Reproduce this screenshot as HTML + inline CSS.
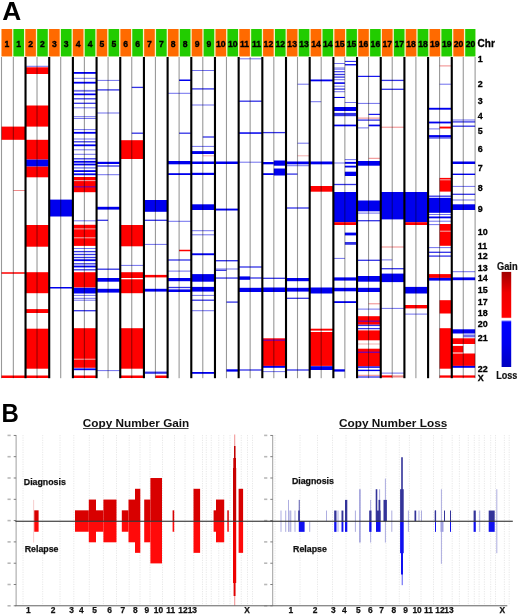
<!DOCTYPE html>
<html><head><meta charset="utf-8"><style>
html,body{margin:0;padding:0;background:#fff;}
body{width:520px;height:615px;overflow:hidden;}
svg{display:block;font-family:"Liberation Sans",sans-serif;}
.hn{font-size:9.8px;font-weight:bold;fill:#000;stroke:#000;stroke-width:0.35px;}
.cl{font-size:9.4px;font-weight:bold;fill:#000;stroke:#000;stroke-width:0.3px;}
.pl{font-size:25px;font-weight:bold;fill:#000;}
.tt{font-size:10.8px;font-weight:bold;fill:#111;}
.dg{font-size:8.8px;font-weight:bold;fill:#111;stroke:#111;stroke-width:0.25px;}
.xl{font-size:8.4px;font-weight:bold;fill:#111;stroke:#111;stroke-width:0.25px;}
.lg{font-size:10.1px;font-weight:bold;fill:#111;stroke:#111;stroke-width:0.2px;}
</style></head><body>
<svg width="520" height="615" viewBox="0 0 520 615">
<rect width="520" height="615" fill="#fff"/>
<text transform="translate(2.2,19.6) scale(1.05,1)" class="pl">A</text>
<text x="477.6" y="46.8" class="cl" style="font-size:10px">Chr</text>
<rect x="1.50" y="57.0" width="473.60" height="321.2" fill="#fff"/>
<rect x="1.50" y="126.60" width="23.68" height="13.20" fill="#ff0000"/>
<rect x="13.34" y="190.00" width="11.84" height="1.00" fill="#f08888"/>
<rect x="1.50" y="272.25" width="23.68" height="1.50" fill="#ff0000"/>
<rect x="1.50" y="375.50" width="23.68" height="2.50" fill="#ff0000"/>
<rect x="25.18" y="65.80" width="23.68" height="1.00" fill="#7070ee"/>
<rect x="25.18" y="67.30" width="23.68" height="6.70" fill="#ff0000"/>
<rect x="25.18" y="105.50" width="23.68" height="21.10" fill="#ff0000"/>
<rect x="25.18" y="139.80" width="23.68" height="19.80" fill="#ff0000"/>
<rect x="25.18" y="159.60" width="23.68" height="7.00" fill="#0000ee"/>
<rect x="25.18" y="166.60" width="23.68" height="10.70" fill="#ff0000"/>
<rect x="25.18" y="225.00" width="23.68" height="21.70" fill="#ff0000"/>
<rect x="25.18" y="272.20" width="23.68" height="21.00" fill="#ff0000"/>
<rect x="25.18" y="309.10" width="23.68" height="3.90" fill="#ff0000"/>
<rect x="25.18" y="328.70" width="23.68" height="40.00" fill="#ff0000"/>
<rect x="25.18" y="375.50" width="23.68" height="2.50" fill="#ff0000"/>
<rect x="48.86" y="199.60" width="23.68" height="16.90" fill="#0000ee"/>
<rect x="48.86" y="287.00" width="23.68" height="1.50" fill="#0000ee"/>
<rect x="72.54" y="72.00" width="23.68" height="1.80" fill="#0000ee"/>
<rect x="72.54" y="77.80" width="23.68" height="1.00" fill="#7070ee"/>
<rect x="72.54" y="81.80" width="23.68" height="1.80" fill="#0000ee"/>
<rect x="72.54" y="89.90" width="23.68" height="1.80" fill="#7070ee"/>
<rect x="72.54" y="93.50" width="23.68" height="1.70" fill="#0000ee"/>
<rect x="72.54" y="98.15" width="23.68" height="1.30" fill="#3333e6"/>
<rect x="72.54" y="102.65" width="23.68" height="1.30" fill="#3333e6"/>
<rect x="72.54" y="107.30" width="23.68" height="1.00" fill="#7070ee"/>
<rect x="72.54" y="116.20" width="23.68" height="1.00" fill="#7070ee"/>
<rect x="72.54" y="118.00" width="23.68" height="1.00" fill="#7070ee"/>
<rect x="72.54" y="129.10" width="23.68" height="1.00" fill="#7070ee"/>
<rect x="72.54" y="131.90" width="23.68" height="1.80" fill="#0000ee"/>
<rect x="72.54" y="138.50" width="23.68" height="1.00" fill="#7070ee"/>
<rect x="72.54" y="141.15" width="23.68" height="1.30" fill="#3333e6"/>
<rect x="72.54" y="144.40" width="23.68" height="1.80" fill="#0000ee"/>
<rect x="72.54" y="149.30" width="23.68" height="1.00" fill="#7070ee"/>
<rect x="72.54" y="153.80" width="23.68" height="1.00" fill="#7070ee"/>
<rect x="72.54" y="158.15" width="23.68" height="1.30" fill="#3333e6"/>
<rect x="72.54" y="160.90" width="23.68" height="1.80" fill="#0000ee"/>
<rect x="72.54" y="163.60" width="23.68" height="1.80" fill="#0000ee"/>
<rect x="72.54" y="167.20" width="23.68" height="1.40" fill="#7070ee"/>
<rect x="72.54" y="170.20" width="23.68" height="1.80" fill="#0000ee"/>
<rect x="72.54" y="173.40" width="23.68" height="1.80" fill="#0000ee"/>
<rect x="72.54" y="177.00" width="23.68" height="15.20" fill="#ff0000"/>
<rect x="72.54" y="180.10" width="23.68" height="1.00" fill="#f4b0b0"/>
<rect x="72.54" y="186.15" width="23.68" height="1.30" fill="#8000a0"/>
<rect x="72.54" y="220.30" width="23.68" height="1.00" fill="#7070ee"/>
<rect x="72.54" y="224.80" width="23.68" height="21.10" fill="#ff0000"/>
<rect x="72.54" y="228.40" width="23.68" height="1.00" fill="#f4b0b0"/>
<rect x="72.54" y="237.30" width="23.68" height="1.00" fill="#f4b0b0"/>
<rect x="72.54" y="248.00" width="23.68" height="1.00" fill="#7070ee"/>
<rect x="72.54" y="250.95" width="23.68" height="1.30" fill="#3333e6"/>
<rect x="72.54" y="253.85" width="23.68" height="1.30" fill="#3333e6"/>
<rect x="72.54" y="256.85" width="23.68" height="1.30" fill="#3333e6"/>
<rect x="72.54" y="259.30" width="23.68" height="1.80" fill="#0000ee"/>
<rect x="72.54" y="263.15" width="23.68" height="1.30" fill="#3333e6"/>
<rect x="72.54" y="265.60" width="23.68" height="1.80" fill="#0000ee"/>
<rect x="72.54" y="269.15" width="23.68" height="1.30" fill="#3333e6"/>
<rect x="72.54" y="272.20" width="23.68" height="15.30" fill="#ff0000"/>
<rect x="72.54" y="287.80" width="23.68" height="5.70" fill="#0000ee"/>
<rect x="72.54" y="294.90" width="23.68" height="1.00" fill="#7070ee"/>
<rect x="72.54" y="297.80" width="23.68" height="1.00" fill="#7070ee"/>
<rect x="72.54" y="299.70" width="23.68" height="1.00" fill="#7070ee"/>
<rect x="72.54" y="310.05" width="23.68" height="1.30" fill="#3333e6"/>
<rect x="72.54" y="328.20" width="23.68" height="39.60" fill="#ff0000"/>
<rect x="72.54" y="358.70" width="23.68" height="1.00" fill="#f4b0b0"/>
<rect x="72.54" y="368.40" width="23.68" height="1.80" fill="#0000ee"/>
<rect x="72.54" y="375.50" width="23.68" height="2.50" fill="#ff0000"/>
<rect x="96.22" y="79.90" width="23.68" height="1.00" fill="#7070ee"/>
<rect x="96.22" y="89.25" width="23.68" height="1.30" fill="#3333e6"/>
<rect x="96.22" y="112.50" width="23.68" height="1.00" fill="#7070ee"/>
<rect x="96.22" y="161.80" width="23.68" height="2.20" fill="#0000ee"/>
<rect x="96.22" y="165.35" width="23.68" height="1.30" fill="#3333e6"/>
<rect x="96.22" y="174.20" width="23.68" height="1.00" fill="#7070ee"/>
<rect x="96.22" y="206.80" width="23.68" height="2.80" fill="#0000ee"/>
<rect x="96.22" y="219.65" width="11.84" height="1.30" fill="#3333e6"/>
<rect x="96.22" y="268.55" width="23.68" height="1.30" fill="#3333e6"/>
<rect x="96.22" y="278.00" width="23.68" height="3.70" fill="#0000ee"/>
<rect x="96.22" y="288.80" width="23.68" height="3.80" fill="#0000ee"/>
<rect x="96.22" y="370.10" width="23.68" height="1.00" fill="#7070ee"/>
<rect x="131.74" y="86.75" width="11.84" height="1.30" fill="#3333e6"/>
<rect x="131.74" y="132.55" width="11.84" height="1.30" fill="#3333e6"/>
<rect x="119.90" y="140.20" width="23.68" height="18.80" fill="#ff0000"/>
<rect x="119.90" y="225.00" width="23.68" height="21.30" fill="#ff0000"/>
<rect x="119.90" y="264.90" width="23.68" height="1.00" fill="#7070ee"/>
<rect x="119.90" y="272.20" width="23.68" height="5.80" fill="#ff0000"/>
<rect x="119.90" y="279.30" width="23.68" height="13.90" fill="#ff0000"/>
<rect x="119.90" y="328.20" width="23.68" height="40.50" fill="#ff0000"/>
<rect x="119.90" y="375.50" width="23.68" height="2.50" fill="#ff0000"/>
<rect x="143.58" y="200.00" width="23.68" height="11.80" fill="#0000ee"/>
<rect x="143.58" y="219.65" width="23.68" height="1.30" fill="#3333e6"/>
<rect x="143.58" y="243.90" width="23.68" height="1.00" fill="#7070ee"/>
<rect x="143.58" y="274.90" width="23.68" height="2.50" fill="#ff0000"/>
<rect x="143.58" y="288.80" width="23.68" height="2.80" fill="#0000ee"/>
<rect x="143.58" y="371.60" width="23.68" height="2.20" fill="#3333e6"/>
<rect x="155.42" y="375.50" width="11.84" height="2.50" fill="#ff0000"/>
<rect x="179.10" y="79.50" width="11.84" height="1.50" fill="#0000ee"/>
<rect x="167.26" y="92.80" width="23.68" height="1.00" fill="#7070ee"/>
<rect x="179.10" y="132.55" width="11.84" height="1.30" fill="#3333e6"/>
<rect x="167.26" y="161.00" width="23.68" height="3.30" fill="#0000ee"/>
<rect x="167.26" y="173.20" width="23.68" height="1.80" fill="#0000ee"/>
<rect x="167.26" y="220.80" width="23.68" height="1.00" fill="#7070ee"/>
<rect x="179.10" y="249.75" width="11.84" height="1.50" fill="#ff0000"/>
<rect x="167.26" y="259.35" width="23.68" height="1.30" fill="#3333e6"/>
<rect x="167.26" y="270.60" width="23.68" height="1.00" fill="#7070ee"/>
<rect x="167.26" y="278.00" width="23.68" height="3.20" fill="#0000ee"/>
<rect x="167.26" y="286.85" width="23.68" height="1.30" fill="#3333e6"/>
<rect x="167.26" y="289.40" width="23.68" height="2.60" fill="#0000ee"/>
<rect x="190.94" y="70.00" width="23.68" height="1.00" fill="#7070ee"/>
<rect x="190.94" y="88.25" width="23.68" height="1.30" fill="#3333e6"/>
<rect x="190.94" y="104.50" width="23.68" height="1.00" fill="#7070ee"/>
<rect x="202.78" y="136.35" width="11.84" height="1.30" fill="#3333e6"/>
<rect x="190.94" y="145.90" width="23.68" height="1.00" fill="#7070ee"/>
<rect x="190.94" y="151.10" width="23.68" height="2.90" fill="#0000ee"/>
<rect x="202.78" y="155.30" width="11.84" height="1.00" fill="#f4b0b0"/>
<rect x="190.94" y="161.50" width="23.68" height="2.50" fill="#0000ee"/>
<rect x="190.94" y="172.80" width="23.68" height="2.20" fill="#0000ee"/>
<rect x="190.94" y="204.30" width="23.68" height="5.70" fill="#0000ee"/>
<rect x="190.94" y="230.20" width="23.68" height="1.00" fill="#7070ee"/>
<rect x="190.94" y="234.30" width="23.68" height="1.00" fill="#7070ee"/>
<rect x="190.94" y="253.30" width="23.68" height="1.90" fill="#0000ee"/>
<rect x="190.94" y="274.10" width="23.68" height="7.60" fill="#0000ee"/>
<rect x="190.94" y="286.90" width="23.68" height="4.70" fill="#0000ee"/>
<rect x="190.94" y="294.90" width="23.68" height="1.00" fill="#7070ee"/>
<rect x="190.94" y="299.55" width="23.68" height="1.30" fill="#3333e6"/>
<rect x="190.94" y="310.20" width="23.68" height="1.00" fill="#7070ee"/>
<rect x="190.94" y="372.00" width="23.68" height="1.80" fill="#0000ee"/>
<rect x="214.62" y="161.50" width="23.68" height="2.50" fill="#0000ee"/>
<rect x="214.62" y="208.60" width="23.68" height="1.90" fill="#0000ee"/>
<rect x="214.62" y="260.00" width="23.68" height="1.40" fill="#3333e6"/>
<rect x="214.62" y="268.50" width="23.68" height="1.00" fill="#7070ee"/>
<rect x="214.62" y="269.65" width="11.84" height="1.30" fill="#3333e6"/>
<rect x="214.62" y="277.40" width="23.68" height="1.30" fill="#3333e6"/>
<rect x="226.46" y="301.45" width="11.84" height="1.30" fill="#3333e6"/>
<rect x="226.46" y="369.30" width="11.84" height="2.30" fill="#0000ee"/>
<rect x="238.30" y="58.30" width="23.68" height="1.00" fill="#7070ee"/>
<rect x="238.30" y="100.55" width="23.68" height="1.30" fill="#3333e6"/>
<rect x="238.30" y="132.30" width="23.68" height="1.50" fill="#0000ee"/>
<rect x="238.30" y="161.70" width="23.68" height="1.00" fill="#7070ee"/>
<rect x="238.30" y="266.35" width="23.68" height="1.30" fill="#3333e6"/>
<rect x="238.30" y="276.40" width="11.84" height="3.40" fill="#0000ee"/>
<rect x="250.14" y="277.35" width="11.84" height="1.30" fill="#3333e6"/>
<rect x="238.30" y="287.80" width="23.68" height="4.20" fill="#0000ee"/>
<rect x="238.30" y="369.35" width="23.68" height="1.30" fill="#3333e6"/>
<rect x="261.98" y="131.95" width="23.68" height="1.30" fill="#3333e6"/>
<rect x="261.98" y="162.00" width="11.84" height="2.30" fill="#0000ee"/>
<rect x="273.82" y="160.50" width="11.84" height="5.20" fill="#0000ee"/>
<rect x="261.98" y="173.20" width="11.84" height="1.80" fill="#0000ee"/>
<rect x="273.82" y="168.50" width="11.84" height="7.00" fill="#0000ee"/>
<rect x="261.98" y="277.65" width="23.68" height="1.30" fill="#3333e6"/>
<rect x="261.98" y="287.50" width="23.68" height="4.50" fill="#0000ee"/>
<rect x="261.98" y="338.30" width="23.68" height="27.60" fill="#ff0000"/>
<rect x="261.98" y="339.55" width="23.68" height="1.30" fill="#8000a0"/>
<rect x="261.98" y="365.90" width="23.68" height="1.90" fill="#0000ee"/>
<rect x="261.98" y="371.10" width="23.68" height="1.00" fill="#7070ee"/>
<rect x="297.50" y="83.70" width="11.84" height="1.00" fill="#7070ee"/>
<rect x="297.50" y="142.70" width="11.84" height="1.00" fill="#7070ee"/>
<rect x="297.50" y="155.30" width="11.84" height="1.00" fill="#f4b0b0"/>
<rect x="285.66" y="161.50" width="23.68" height="2.80" fill="#0000ee"/>
<rect x="285.66" y="165.20" width="23.68" height="1.00" fill="#7070ee"/>
<rect x="285.66" y="173.45" width="11.84" height="1.30" fill="#3333e6"/>
<rect x="285.66" y="207.35" width="23.68" height="1.30" fill="#3333e6"/>
<rect x="285.66" y="278.00" width="23.68" height="3.20" fill="#0000ee"/>
<rect x="285.66" y="287.80" width="23.68" height="3.80" fill="#0000ee"/>
<rect x="285.66" y="297.65" width="23.68" height="1.30" fill="#3333e6"/>
<rect x="285.66" y="369.35" width="23.68" height="1.30" fill="#3333e6"/>
<rect x="309.34" y="79.50" width="23.68" height="1.80" fill="#0000ee"/>
<rect x="309.34" y="101.20" width="11.84" height="1.00" fill="#7070ee"/>
<rect x="309.34" y="161.50" width="23.68" height="2.80" fill="#0000ee"/>
<rect x="309.34" y="186.00" width="23.68" height="5.70" fill="#ff0000"/>
<rect x="309.34" y="287.50" width="23.68" height="6.00" fill="#0000ee"/>
<rect x="309.34" y="328.70" width="23.68" height="1.90" fill="#ff0000"/>
<rect x="309.34" y="332.00" width="23.68" height="33.90" fill="#ff0000"/>
<rect x="309.34" y="366.20" width="23.68" height="3.80" fill="#0000ee"/>
<rect x="344.86" y="60.90" width="11.84" height="0.90" fill="#0000ee"/>
<rect x="344.86" y="64.10" width="11.84" height="1.30" fill="#0000ee"/>
<rect x="333.02" y="63.00" width="11.84" height="1.00" fill="#7070ee"/>
<rect x="333.02" y="67.50" width="11.84" height="1.00" fill="#7070ee"/>
<rect x="333.02" y="68.70" width="11.84" height="1.00" fill="#7070ee"/>
<rect x="333.02" y="71.30" width="11.84" height="0.90" fill="#0000ee"/>
<rect x="333.02" y="73.85" width="11.84" height="1.30" fill="#3333e6"/>
<rect x="333.02" y="76.45" width="11.84" height="1.30" fill="#3333e6"/>
<rect x="333.02" y="79.20" width="11.84" height="1.00" fill="#7070ee"/>
<rect x="333.02" y="82.30" width="11.84" height="1.60" fill="#0000ee"/>
<rect x="333.02" y="85.70" width="11.84" height="1.00" fill="#7070ee"/>
<rect x="333.02" y="88.45" width="11.84" height="1.30" fill="#3333e6"/>
<rect x="333.02" y="91.20" width="11.84" height="1.00" fill="#7070ee"/>
<rect x="333.02" y="96.90" width="11.84" height="1.10" fill="#0000ee"/>
<rect x="344.86" y="102.00" width="11.84" height="1.00" fill="#7070ee"/>
<rect x="333.02" y="107.00" width="23.68" height="4.00" fill="#0000ee"/>
<rect x="333.02" y="112.90" width="23.68" height="3.30" fill="#3333e6"/>
<rect x="333.02" y="124.60" width="23.68" height="1.70" fill="#0000ee"/>
<rect x="344.86" y="159.10" width="11.84" height="1.00" fill="#7070ee"/>
<rect x="333.02" y="162.50" width="11.84" height="1.00" fill="#7070ee"/>
<rect x="344.86" y="161.90" width="11.84" height="1.90" fill="#0000ee"/>
<rect x="344.86" y="165.70" width="11.84" height="1.80" fill="#0000ee"/>
<rect x="344.86" y="171.70" width="11.84" height="4.30" fill="#0000ee"/>
<rect x="333.02" y="183.85" width="23.68" height="1.30" fill="#3333e6"/>
<rect x="333.02" y="192.00" width="23.68" height="30.20" fill="#0000ee"/>
<rect x="333.02" y="222.20" width="23.68" height="2.80" fill="#ff0000"/>
<rect x="344.86" y="232.60" width="11.84" height="2.80" fill="#0000ee"/>
<rect x="344.86" y="242.00" width="11.84" height="2.80" fill="#3333e6"/>
<rect x="333.02" y="257.90" width="11.84" height="1.00" fill="#7070ee"/>
<rect x="333.02" y="277.40" width="23.68" height="3.20" fill="#0000ee"/>
<rect x="333.02" y="287.80" width="23.68" height="3.50" fill="#0000ee"/>
<rect x="333.02" y="301.20" width="23.68" height="1.80" fill="#0000ee"/>
<rect x="333.02" y="369.30" width="11.84" height="2.30" fill="#0000ee"/>
<rect x="356.70" y="75.80" width="23.68" height="1.10" fill="#0000ee"/>
<rect x="356.70" y="102.90" width="23.68" height="1.00" fill="#7070ee"/>
<rect x="368.54" y="113.80" width="11.84" height="1.10" fill="#0000ee"/>
<rect x="356.70" y="117.60" width="23.68" height="1.00" fill="#f08888"/>
<rect x="356.70" y="119.45" width="23.68" height="1.30" fill="#3333e6"/>
<rect x="368.54" y="124.60" width="11.84" height="1.70" fill="#0000ee"/>
<rect x="356.70" y="127.40" width="11.84" height="1.00" fill="#7070ee"/>
<rect x="368.54" y="157.80" width="11.84" height="1.00" fill="#f08888"/>
<rect x="356.70" y="161.00" width="23.68" height="4.70" fill="#0000ee"/>
<rect x="356.70" y="200.50" width="23.68" height="10.80" fill="#0000ee"/>
<rect x="356.70" y="212.60" width="23.68" height="1.00" fill="#7070ee"/>
<rect x="356.70" y="220.05" width="23.68" height="1.30" fill="#3333e6"/>
<rect x="356.70" y="259.65" width="23.68" height="1.30" fill="#3333e6"/>
<rect x="356.70" y="276.00" width="23.68" height="5.70" fill="#0000ee"/>
<rect x="356.70" y="287.80" width="23.68" height="4.20" fill="#0000ee"/>
<rect x="368.54" y="303.30" width="11.84" height="1.00" fill="#f08888"/>
<rect x="356.70" y="308.60" width="23.68" height="1.00" fill="#7070ee"/>
<rect x="356.70" y="316.20" width="23.68" height="8.50" fill="#ff0000"/>
<rect x="356.70" y="320.55" width="23.68" height="1.30" fill="#8000a0"/>
<rect x="356.70" y="324.75" width="23.68" height="1.30" fill="#3333e6"/>
<rect x="356.70" y="328.20" width="23.68" height="1.00" fill="#0000ee"/>
<rect x="356.70" y="330.40" width="23.68" height="9.90" fill="#ff0000"/>
<rect x="356.70" y="343.50" width="23.68" height="1.00" fill="#f4b0b0"/>
<rect x="356.70" y="348.70" width="23.68" height="17.70" fill="#ff0000"/>
<rect x="356.70" y="351.60" width="23.68" height="1.40" fill="#8000a0"/>
<rect x="356.70" y="366.40" width="23.68" height="1.40" fill="#0000ee"/>
<rect x="356.70" y="369.70" width="23.68" height="1.40" fill="#0000ee"/>
<rect x="356.70" y="374.80" width="23.68" height="1.00" fill="#f08888"/>
<rect x="356.70" y="376.35" width="23.68" height="1.30" fill="#3333e6"/>
<rect x="380.38" y="79.75" width="23.68" height="1.30" fill="#3333e6"/>
<rect x="380.38" y="88.65" width="23.68" height="1.30" fill="#3333e6"/>
<rect x="380.38" y="126.70" width="23.68" height="1.00" fill="#f08888"/>
<rect x="380.38" y="192.00" width="23.68" height="27.40" fill="#0000ee"/>
<rect x="380.38" y="246.50" width="23.68" height="1.00" fill="#f08888"/>
<rect x="380.38" y="259.40" width="11.84" height="1.00" fill="#7070ee"/>
<rect x="380.38" y="268.05" width="23.68" height="1.30" fill="#3333e6"/>
<rect x="380.38" y="273.60" width="23.68" height="8.50" fill="#0000ee"/>
<rect x="380.38" y="307.90" width="23.68" height="1.00" fill="#7070ee"/>
<rect x="380.38" y="372.60" width="23.68" height="1.00" fill="#7070ee"/>
<rect x="380.38" y="375.40" width="11.84" height="2.10" fill="#ff0000"/>
<rect x="392.22" y="375.40" width="11.84" height="2.10" fill="#f08888"/>
<rect x="404.06" y="192.00" width="23.68" height="30.20" fill="#0000ee"/>
<rect x="404.06" y="222.20" width="23.68" height="2.80" fill="#ff0000"/>
<rect x="404.06" y="286.90" width="23.68" height="6.60" fill="#0000ee"/>
<rect x="404.06" y="305.00" width="23.68" height="3.40" fill="#ff0000"/>
<rect x="404.06" y="313.60" width="23.68" height="1.00" fill="#7070ee"/>
<rect x="439.58" y="65.40" width="11.84" height="1.00" fill="#f08888"/>
<rect x="439.58" y="83.70" width="11.84" height="1.00" fill="#7070ee"/>
<rect x="427.74" y="107.80" width="23.68" height="1.90" fill="#0000ee"/>
<rect x="427.74" y="121.60" width="23.68" height="1.80" fill="#0000ee"/>
<rect x="427.74" y="128.40" width="11.84" height="1.00" fill="#7070ee"/>
<rect x="439.58" y="126.60" width="11.84" height="1.90" fill="#ff0000"/>
<rect x="427.74" y="135.10" width="23.68" height="1.90" fill="#0000ee"/>
<rect x="427.74" y="137.25" width="23.68" height="1.30" fill="#3333e6"/>
<rect x="439.58" y="177.90" width="11.84" height="13.70" fill="#ff0000"/>
<rect x="439.58" y="179.30" width="11.84" height="1.00" fill="#f4b0b0"/>
<rect x="427.74" y="195.55" width="23.68" height="1.30" fill="#3333e6"/>
<rect x="427.74" y="197.80" width="23.68" height="15.00" fill="#0000ee"/>
<rect x="427.74" y="214.00" width="23.68" height="1.00" fill="#7070ee"/>
<rect x="427.74" y="216.50" width="23.68" height="1.80" fill="#0000ee"/>
<rect x="427.74" y="220.70" width="23.68" height="1.00" fill="#7070ee"/>
<rect x="427.74" y="224.10" width="11.84" height="1.00" fill="#7070ee"/>
<rect x="439.58" y="224.00" width="11.84" height="21.80" fill="#ff0000"/>
<rect x="439.58" y="230.70" width="11.84" height="1.00" fill="#f4b0b0"/>
<rect x="427.74" y="247.10" width="23.68" height="1.00" fill="#7070ee"/>
<rect x="427.74" y="251.65" width="23.68" height="1.30" fill="#3333e6"/>
<rect x="427.74" y="255.45" width="23.68" height="1.30" fill="#3333e6"/>
<rect x="427.74" y="274.10" width="23.68" height="3.80" fill="#ff0000"/>
<rect x="427.74" y="277.90" width="23.68" height="2.70" fill="#0000ee"/>
<rect x="439.58" y="300.20" width="11.84" height="13.30" fill="#ff0000"/>
<rect x="439.58" y="328.20" width="11.84" height="40.50" fill="#ff0000"/>
<rect x="439.58" y="375.40" width="11.84" height="2.30" fill="#ff0000"/>
<rect x="451.42" y="119.50" width="23.68" height="1.00" fill="#7070ee"/>
<rect x="451.42" y="121.25" width="23.68" height="1.30" fill="#3333e6"/>
<rect x="451.42" y="125.55" width="23.68" height="1.30" fill="#3333e6"/>
<rect x="451.42" y="161.50" width="23.68" height="2.50" fill="#0000ee"/>
<rect x="451.42" y="173.60" width="23.68" height="1.40" fill="#0000ee"/>
<rect x="451.42" y="185.90" width="23.68" height="1.00" fill="#7070ee"/>
<rect x="451.42" y="193.65" width="23.68" height="1.30" fill="#3333e6"/>
<rect x="451.42" y="199.50" width="23.68" height="1.00" fill="#7070ee"/>
<rect x="451.42" y="204.30" width="23.68" height="5.70" fill="#0000ee"/>
<rect x="451.42" y="271.20" width="23.68" height="1.00" fill="#7070ee"/>
<rect x="451.42" y="277.40" width="23.68" height="2.80" fill="#0000ee"/>
<rect x="451.42" y="329.30" width="23.68" height="4.20" fill="#0000ee"/>
<rect x="463.26" y="334.50" width="11.84" height="2.80" fill="#7070ee"/>
<rect x="451.42" y="338.30" width="23.68" height="5.70" fill="#ff0000"/>
<rect x="451.42" y="345.90" width="11.84" height="6.60" fill="#ff0000"/>
<rect x="451.42" y="353.50" width="23.68" height="12.40" fill="#ff0000"/>
<rect x="451.42" y="365.90" width="23.68" height="1.90" fill="#0000ee"/>
<rect x="451.42" y="375.40" width="23.68" height="2.30" fill="#ff0000"/>
<rect x="0.95" y="57.0" width="1.1" height="321.2" fill="#999" style="mix-blend-mode:multiply"/>
<rect x="12.79" y="57.0" width="1.1" height="321.2" fill="#999" style="mix-blend-mode:multiply"/>
<rect x="36.47" y="57.0" width="1.1" height="321.2" fill="#999" style="mix-blend-mode:multiply"/>
<rect x="60.15" y="57.0" width="1.1" height="321.2" fill="#999" style="mix-blend-mode:multiply"/>
<rect x="83.83" y="57.0" width="1.1" height="321.2" fill="#999" style="mix-blend-mode:multiply"/>
<rect x="107.51" y="57.0" width="1.1" height="321.2" fill="#999" style="mix-blend-mode:multiply"/>
<rect x="131.19" y="57.0" width="1.1" height="321.2" fill="#999" style="mix-blend-mode:multiply"/>
<rect x="154.87" y="57.0" width="1.1" height="321.2" fill="#999" style="mix-blend-mode:multiply"/>
<rect x="178.55" y="57.0" width="1.1" height="321.2" fill="#999" style="mix-blend-mode:multiply"/>
<rect x="202.23" y="57.0" width="1.1" height="321.2" fill="#999" style="mix-blend-mode:multiply"/>
<rect x="225.91" y="57.0" width="1.1" height="321.2" fill="#999" style="mix-blend-mode:multiply"/>
<rect x="249.59" y="57.0" width="1.1" height="321.2" fill="#999" style="mix-blend-mode:multiply"/>
<rect x="273.27" y="57.0" width="1.1" height="321.2" fill="#999" style="mix-blend-mode:multiply"/>
<rect x="296.95" y="57.0" width="1.1" height="321.2" fill="#999" style="mix-blend-mode:multiply"/>
<rect x="320.63" y="57.0" width="1.1" height="321.2" fill="#999" style="mix-blend-mode:multiply"/>
<rect x="344.31" y="57.0" width="1.1" height="321.2" fill="#999" style="mix-blend-mode:multiply"/>
<rect x="367.99" y="57.0" width="1.1" height="321.2" fill="#999" style="mix-blend-mode:multiply"/>
<rect x="391.67" y="57.0" width="1.1" height="321.2" fill="#999" style="mix-blend-mode:multiply"/>
<rect x="415.35" y="57.0" width="1.1" height="321.2" fill="#999" style="mix-blend-mode:multiply"/>
<rect x="439.03" y="57.0" width="1.1" height="321.2" fill="#999" style="mix-blend-mode:multiply"/>
<rect x="462.71" y="57.0" width="1.1" height="321.2" fill="#999" style="mix-blend-mode:multiply"/>
<rect x="474.55" y="57.0" width="1.1" height="321.2" fill="#999" style="mix-blend-mode:multiply"/>
<rect x="24.48" y="57.0" width="2.1" height="321.2" fill="#000"/>
<rect x="48.16" y="57.0" width="2.1" height="321.2" fill="#000"/>
<rect x="71.84" y="57.0" width="2.1" height="321.2" fill="#000"/>
<rect x="95.52" y="57.0" width="2.1" height="321.2" fill="#000"/>
<rect x="119.20" y="57.0" width="2.1" height="321.2" fill="#000"/>
<rect x="142.88" y="57.0" width="2.1" height="321.2" fill="#000"/>
<rect x="166.56" y="57.0" width="2.1" height="321.2" fill="#000"/>
<rect x="190.24" y="57.0" width="2.1" height="321.2" fill="#000"/>
<rect x="213.92" y="57.0" width="2.1" height="321.2" fill="#000"/>
<rect x="237.60" y="57.0" width="2.1" height="321.2" fill="#000"/>
<rect x="261.28" y="57.0" width="2.1" height="321.2" fill="#000"/>
<rect x="284.96" y="57.0" width="2.1" height="321.2" fill="#000"/>
<rect x="308.64" y="57.0" width="2.1" height="321.2" fill="#000"/>
<rect x="332.32" y="57.0" width="2.1" height="321.2" fill="#000"/>
<rect x="356.00" y="57.0" width="2.1" height="321.2" fill="#000"/>
<rect x="379.68" y="57.0" width="2.1" height="321.2" fill="#000"/>
<rect x="403.36" y="57.0" width="2.1" height="321.2" fill="#000"/>
<rect x="427.04" y="57.0" width="2.1" height="321.2" fill="#000"/>
<rect x="450.72" y="57.0" width="2.1" height="321.2" fill="#000"/>
<rect x="1.5" y="29.0" width="474.0" height="27.5" fill="#f6f6c8"/>
<rect x="1.50" y="29.0" width="10.60" height="27.4" fill="#ff6a00"/>
<text transform="translate(6.80,46.50) scale(0.88,1)" text-anchor="middle" class="hn">1</text>
<rect x="13.39" y="29.0" width="10.60" height="27.4" fill="#22cc00"/>
<text transform="translate(18.69,46.50) scale(0.88,1)" text-anchor="middle" class="hn">1</text>
<rect x="25.28" y="29.0" width="10.60" height="27.4" fill="#ff6a00"/>
<text transform="translate(30.58,46.50) scale(0.88,1)" text-anchor="middle" class="hn">2</text>
<rect x="37.17" y="29.0" width="10.60" height="27.4" fill="#22cc00"/>
<text transform="translate(42.47,46.50) scale(0.88,1)" text-anchor="middle" class="hn">2</text>
<rect x="49.06" y="29.0" width="10.60" height="27.4" fill="#ff6a00"/>
<text transform="translate(54.36,46.50) scale(0.88,1)" text-anchor="middle" class="hn">3</text>
<rect x="60.95" y="29.0" width="10.60" height="27.4" fill="#22cc00"/>
<text transform="translate(66.25,46.50) scale(0.88,1)" text-anchor="middle" class="hn">3</text>
<rect x="72.84" y="29.0" width="10.60" height="27.4" fill="#ff6a00"/>
<text transform="translate(78.14,46.50) scale(0.88,1)" text-anchor="middle" class="hn">4</text>
<rect x="84.73" y="29.0" width="10.60" height="27.4" fill="#22cc00"/>
<text transform="translate(90.03,46.50) scale(0.88,1)" text-anchor="middle" class="hn">4</text>
<rect x="96.62" y="29.0" width="10.60" height="27.4" fill="#ff6a00"/>
<text transform="translate(101.92,46.50) scale(0.88,1)" text-anchor="middle" class="hn">5</text>
<rect x="108.51" y="29.0" width="10.60" height="27.4" fill="#22cc00"/>
<text transform="translate(113.81,46.50) scale(0.88,1)" text-anchor="middle" class="hn">5</text>
<rect x="120.40" y="29.0" width="10.60" height="27.4" fill="#ff6a00"/>
<text transform="translate(125.70,46.50) scale(0.88,1)" text-anchor="middle" class="hn">6</text>
<rect x="132.29" y="29.0" width="10.60" height="27.4" fill="#22cc00"/>
<text transform="translate(137.59,46.50) scale(0.88,1)" text-anchor="middle" class="hn">6</text>
<rect x="144.18" y="29.0" width="10.60" height="27.4" fill="#ff6a00"/>
<text transform="translate(149.48,46.50) scale(0.88,1)" text-anchor="middle" class="hn">7</text>
<rect x="156.07" y="29.0" width="10.60" height="27.4" fill="#22cc00"/>
<text transform="translate(161.37,46.50) scale(0.88,1)" text-anchor="middle" class="hn">7</text>
<rect x="167.96" y="29.0" width="10.60" height="27.4" fill="#ff6a00"/>
<text transform="translate(173.26,46.50) scale(0.88,1)" text-anchor="middle" class="hn">8</text>
<rect x="179.85" y="29.0" width="10.60" height="27.4" fill="#22cc00"/>
<text transform="translate(185.15,46.50) scale(0.88,1)" text-anchor="middle" class="hn">8</text>
<rect x="191.74" y="29.0" width="10.60" height="27.4" fill="#ff6a00"/>
<text transform="translate(197.04,46.50) scale(0.88,1)" text-anchor="middle" class="hn">9</text>
<rect x="203.63" y="29.0" width="10.60" height="27.4" fill="#22cc00"/>
<text transform="translate(208.93,46.50) scale(0.88,1)" text-anchor="middle" class="hn">9</text>
<rect x="215.52" y="29.0" width="10.60" height="27.4" fill="#ff6a00"/>
<text transform="translate(220.82,46.50) scale(0.88,1)" text-anchor="middle" class="hn">10</text>
<rect x="227.41" y="29.0" width="10.60" height="27.4" fill="#22cc00"/>
<text transform="translate(232.71,46.50) scale(0.88,1)" text-anchor="middle" class="hn">10</text>
<rect x="239.30" y="29.0" width="10.60" height="27.4" fill="#ff6a00"/>
<text transform="translate(244.60,46.50) scale(0.88,1)" text-anchor="middle" class="hn">11</text>
<rect x="251.19" y="29.0" width="10.60" height="27.4" fill="#22cc00"/>
<text transform="translate(256.49,46.50) scale(0.88,1)" text-anchor="middle" class="hn">11</text>
<rect x="263.08" y="29.0" width="10.60" height="27.4" fill="#ff6a00"/>
<text transform="translate(268.38,46.50) scale(0.88,1)" text-anchor="middle" class="hn">12</text>
<rect x="274.97" y="29.0" width="10.60" height="27.4" fill="#22cc00"/>
<text transform="translate(280.27,46.50) scale(0.88,1)" text-anchor="middle" class="hn">12</text>
<rect x="286.86" y="29.0" width="10.60" height="27.4" fill="#ff6a00"/>
<text transform="translate(292.16,46.50) scale(0.88,1)" text-anchor="middle" class="hn">13</text>
<rect x="298.75" y="29.0" width="10.60" height="27.4" fill="#22cc00"/>
<text transform="translate(304.05,46.50) scale(0.88,1)" text-anchor="middle" class="hn">13</text>
<rect x="310.64" y="29.0" width="10.60" height="27.4" fill="#ff6a00"/>
<text transform="translate(315.94,46.50) scale(0.88,1)" text-anchor="middle" class="hn">14</text>
<rect x="322.53" y="29.0" width="10.60" height="27.4" fill="#22cc00"/>
<text transform="translate(327.83,46.50) scale(0.88,1)" text-anchor="middle" class="hn">14</text>
<rect x="334.42" y="29.0" width="10.60" height="27.4" fill="#ff6a00"/>
<text transform="translate(339.72,46.50) scale(0.88,1)" text-anchor="middle" class="hn">15</text>
<rect x="346.31" y="29.0" width="10.60" height="27.4" fill="#22cc00"/>
<text transform="translate(351.61,46.50) scale(0.88,1)" text-anchor="middle" class="hn">15</text>
<rect x="358.20" y="29.0" width="10.60" height="27.4" fill="#ff6a00"/>
<text transform="translate(363.50,46.50) scale(0.88,1)" text-anchor="middle" class="hn">16</text>
<rect x="370.09" y="29.0" width="10.60" height="27.4" fill="#22cc00"/>
<text transform="translate(375.39,46.50) scale(0.88,1)" text-anchor="middle" class="hn">16</text>
<rect x="381.98" y="29.0" width="10.60" height="27.4" fill="#ff6a00"/>
<text transform="translate(387.28,46.50) scale(0.88,1)" text-anchor="middle" class="hn">17</text>
<rect x="393.87" y="29.0" width="10.60" height="27.4" fill="#22cc00"/>
<text transform="translate(399.17,46.50) scale(0.88,1)" text-anchor="middle" class="hn">17</text>
<rect x="405.76" y="29.0" width="10.60" height="27.4" fill="#ff6a00"/>
<text transform="translate(411.06,46.50) scale(0.88,1)" text-anchor="middle" class="hn">18</text>
<rect x="417.65" y="29.0" width="10.60" height="27.4" fill="#22cc00"/>
<text transform="translate(422.95,46.50) scale(0.88,1)" text-anchor="middle" class="hn">18</text>
<rect x="429.54" y="29.0" width="10.60" height="27.4" fill="#ff6a00"/>
<text transform="translate(434.84,46.50) scale(0.88,1)" text-anchor="middle" class="hn">19</text>
<rect x="441.43" y="29.0" width="10.60" height="27.4" fill="#22cc00"/>
<text transform="translate(446.73,46.50) scale(0.88,1)" text-anchor="middle" class="hn">19</text>
<rect x="453.32" y="29.0" width="10.60" height="27.4" fill="#ff6a00"/>
<text transform="translate(458.62,46.50) scale(0.88,1)" text-anchor="middle" class="hn">20</text>
<rect x="465.21" y="29.0" width="10.19" height="27.4" fill="#22cc00"/>
<text transform="translate(470.51,46.50) scale(0.88,1)" text-anchor="middle" class="hn">20</text>
<text transform="translate(477.70,61.60) scale(0.95,1)" class="cl">1</text>
<text transform="translate(477.70,86.50) scale(0.95,1)" class="cl">2</text>
<text transform="translate(477.70,104.00) scale(0.95,1)" class="cl">3</text>
<text transform="translate(477.70,118.80) scale(0.95,1)" class="cl">4</text>
<text transform="translate(477.70,133.90) scale(0.95,1)" class="cl">5</text>
<text transform="translate(477.70,152.10) scale(0.95,1)" class="cl">6</text>
<text transform="translate(477.70,170.80) scale(0.95,1)" class="cl">7</text>
<text transform="translate(477.70,191.10) scale(0.95,1)" class="cl">8</text>
<text transform="translate(477.70,211.90) scale(0.95,1)" class="cl">9</text>
<text transform="translate(477.70,235.30) scale(0.95,1)" class="cl">10</text>
<text transform="translate(477.70,248.80) scale(0.95,1)" class="cl">11</text>
<text transform="translate(477.70,258.90) scale(0.95,1)" class="cl">12</text>
<text transform="translate(477.70,270.50) scale(0.95,1)" class="cl">13</text>
<text transform="translate(477.70,281.30) scale(0.95,1)" class="cl">14</text>
<text transform="translate(477.70,293.10) scale(0.95,1)" class="cl">15</text>
<text transform="translate(477.70,305.10) scale(0.95,1)" class="cl">17</text>
<text transform="translate(477.70,315.90) scale(0.95,1)" class="cl">18</text>
<text transform="translate(477.70,327.10) scale(0.95,1)" class="cl">20</text>
<text transform="translate(477.70,340.80) scale(0.95,1)" class="cl">21</text>
<text transform="translate(477.70,371.60) scale(0.95,1)" class="cl">22</text>
<text transform="translate(477.70,381.10) scale(0.95,1)" class="cl">X</text>
<defs>
<linearGradient id="gr" x1="0" y1="0" x2="0" y2="1">
<stop offset="0" stop-color="#a00000"/><stop offset="0.45" stop-color="#f00000"/><stop offset="0.97" stop-color="#ff0000"/><stop offset="1" stop-color="#ff6060"/></linearGradient>
<linearGradient id="gb" x1="0" y1="0" x2="0" y2="1">
<stop offset="0" stop-color="#7070ff"/><stop offset="0.04" stop-color="#0000ff"/><stop offset="0.5" stop-color="#0000f0"/><stop offset="1" stop-color="#0000c0"/></linearGradient>
</defs>
<rect x="501.6" y="271.9" width="9.6" height="46.2" fill="url(#gr)"/>
<rect x="501.6" y="320.5" width="9.6" height="46.5" fill="url(#gb)"/>
<text transform="translate(507.3,270.0) scale(0.92,1)" text-anchor="middle" class="lg">Gain</text>
<text transform="translate(506.8,379.2) scale(0.9,1)" text-anchor="middle" class="lg">Loss</text>
<text transform="translate(1.6,421.8) scale(0.96,1)" class="pl" style="font-size:25px">B</text>
<line x1="23" y1="435" x2="23" y2="605.5" stroke="#e2e2e2" stroke-width="0.8" stroke-dasharray="1.2 1.2"/>
<line x1="42.7" y1="435" x2="42.7" y2="605.5" stroke="#e2e2e2" stroke-width="0.8" stroke-dasharray="1.2 1.2"/>
<line x1="60" y1="435" x2="60" y2="605.5" stroke="#e2e2e2" stroke-width="0.8" stroke-dasharray="1.2 1.2"/>
<line x1="73.8" y1="435" x2="73.8" y2="605.5" stroke="#e2e2e2" stroke-width="0.8" stroke-dasharray="1.2 1.2"/>
<line x1="89.3" y1="435" x2="89.3" y2="605.5" stroke="#e2e2e2" stroke-width="0.8" stroke-dasharray="1.2 1.2"/>
<line x1="103.4" y1="435" x2="103.4" y2="605.5" stroke="#e2e2e2" stroke-width="0.8" stroke-dasharray="1.2 1.2"/>
<line x1="116.5" y1="435" x2="116.5" y2="605.5" stroke="#e2e2e2" stroke-width="0.8" stroke-dasharray="1.2 1.2"/>
<line x1="129.2" y1="435" x2="129.2" y2="605.5" stroke="#e2e2e2" stroke-width="0.8" stroke-dasharray="1.2 1.2"/>
<line x1="140" y1="435" x2="140" y2="605.5" stroke="#e2e2e2" stroke-width="0.8" stroke-dasharray="1.2 1.2"/>
<line x1="150" y1="435" x2="150" y2="605.5" stroke="#e2e2e2" stroke-width="0.8" stroke-dasharray="1.2 1.2"/>
<line x1="162.5" y1="435" x2="162.5" y2="605.5" stroke="#e2e2e2" stroke-width="0.8" stroke-dasharray="1.2 1.2"/>
<line x1="174.5" y1="435" x2="174.5" y2="605.5" stroke="#e2e2e2" stroke-width="0.8" stroke-dasharray="1.2 1.2"/>
<line x1="185" y1="435" x2="185" y2="605.5" stroke="#e2e2e2" stroke-width="0.8" stroke-dasharray="1.2 1.2"/>
<line x1="193.75" y1="435" x2="193.75" y2="605.5" stroke="#e2e2e2" stroke-width="0.8" stroke-dasharray="1.2 1.2"/>
<line x1="202.5" y1="435" x2="202.5" y2="605.5" stroke="#e2e2e2" stroke-width="0.8" stroke-dasharray="1.2 1.2"/>
<line x1="206.25" y1="435" x2="206.25" y2="605.5" stroke="#e2e2e2" stroke-width="0.8" stroke-dasharray="1.2 1.2"/>
<line x1="211.25" y1="435" x2="211.25" y2="605.5" stroke="#e2e2e2" stroke-width="0.8" stroke-dasharray="1.2 1.2"/>
<line x1="218.75" y1="435" x2="218.75" y2="605.5" stroke="#e2e2e2" stroke-width="0.8" stroke-dasharray="1.2 1.2"/>
<line x1="223.75" y1="435" x2="223.75" y2="605.5" stroke="#e2e2e2" stroke-width="0.8" stroke-dasharray="1.2 1.2"/>
<line x1="230" y1="435" x2="230" y2="605.5" stroke="#e2e2e2" stroke-width="0.8" stroke-dasharray="1.2 1.2"/>
<line x1="241.25" y1="435" x2="241.25" y2="605.5" stroke="#e2e2e2" stroke-width="0.8" stroke-dasharray="1.2 1.2"/>
<line x1="247.5" y1="435" x2="247.5" y2="605.5" stroke="#e2e2e2" stroke-width="0.8" stroke-dasharray="1.2 1.2"/>
<line x1="252.5" y1="435" x2="252.5" y2="605.5" stroke="#e2e2e2" stroke-width="0.8" stroke-dasharray="1.2 1.2"/>
<rect x="15.600000000000001" y="435" width="1" height="171" fill="#a0a0a0"/>
<rect x="13.700000000000001" y="434.95" width="2.4" height="0.9" fill="#707070"/>
<rect x="7.500000000000002" y="434.60" width="3.2" height="1.6" fill="#b8b8b8"/>
<rect x="13.700000000000001" y="456.25" width="2.4" height="0.9" fill="#707070"/>
<rect x="7.500000000000002" y="455.90" width="3.2" height="1.6" fill="#b8b8b8"/>
<rect x="13.700000000000001" y="477.55" width="2.4" height="0.9" fill="#707070"/>
<rect x="7.500000000000002" y="477.20" width="3.2" height="1.6" fill="#b8b8b8"/>
<rect x="13.700000000000001" y="498.85" width="2.4" height="0.9" fill="#707070"/>
<rect x="7.500000000000002" y="498.50" width="3.2" height="1.6" fill="#b8b8b8"/>
<rect x="13.700000000000001" y="520.15" width="2.4" height="0.9" fill="#707070"/>
<rect x="7.500000000000002" y="519.80" width="3.2" height="1.6" fill="#b8b8b8"/>
<rect x="13.700000000000001" y="541.45" width="2.4" height="0.9" fill="#707070"/>
<rect x="7.500000000000002" y="541.10" width="3.2" height="1.6" fill="#b8b8b8"/>
<rect x="13.700000000000001" y="562.75" width="2.4" height="0.9" fill="#707070"/>
<rect x="7.500000000000002" y="562.40" width="3.2" height="1.6" fill="#b8b8b8"/>
<rect x="13.700000000000001" y="584.05" width="2.4" height="0.9" fill="#707070"/>
<rect x="7.500000000000002" y="583.70" width="3.2" height="1.6" fill="#b8b8b8"/>
<rect x="13.700000000000001" y="605.35" width="2.4" height="0.9" fill="#707070"/>
<rect x="7.500000000000002" y="605.00" width="3.2" height="1.6" fill="#b8b8b8"/>
<text x="28.4" y="613.3" text-anchor="middle" class="xl">1</text>
<text x="53" y="613.3" text-anchor="middle" class="xl">2</text>
<text x="71.7" y="613.3" text-anchor="middle" class="xl">3</text>
<text x="81.3" y="613.3" text-anchor="middle" class="xl">4</text>
<text x="94.5" y="613.3" text-anchor="middle" class="xl">5</text>
<text x="109.6" y="613.3" text-anchor="middle" class="xl">6</text>
<text x="122.8" y="613.3" text-anchor="middle" class="xl">7</text>
<text x="135.4" y="613.3" text-anchor="middle" class="xl">8</text>
<text x="146.8" y="613.3" text-anchor="middle" class="xl">9</text>
<text x="158.5" y="613.3" text-anchor="middle" class="xl">10</text>
<text x="170.8" y="613.3" text-anchor="middle" class="xl">11</text>
<text x="183" y="613.3" text-anchor="middle" class="xl">12</text>
<text x="192.3" y="613.3" text-anchor="middle" class="xl">13</text>
<text x="247" y="613.3" text-anchor="middle" class="xl">X</text>
<line x1="275" y1="435" x2="275" y2="605.5" stroke="#e2e2e2" stroke-width="0.8" stroke-dasharray="1.2 1.2"/>
<line x1="300" y1="435" x2="300" y2="605.5" stroke="#e2e2e2" stroke-width="0.8" stroke-dasharray="1.2 1.2"/>
<line x1="317.5" y1="435" x2="317.5" y2="605.5" stroke="#e2e2e2" stroke-width="0.8" stroke-dasharray="1.2 1.2"/>
<line x1="332.5" y1="435" x2="332.5" y2="605.5" stroke="#e2e2e2" stroke-width="0.8" stroke-dasharray="1.2 1.2"/>
<line x1="346" y1="435" x2="346" y2="605.5" stroke="#e2e2e2" stroke-width="0.8" stroke-dasharray="1.2 1.2"/>
<line x1="360" y1="435" x2="360" y2="605.5" stroke="#e2e2e2" stroke-width="0.8" stroke-dasharray="1.2 1.2"/>
<line x1="371" y1="435" x2="371" y2="605.5" stroke="#e2e2e2" stroke-width="0.8" stroke-dasharray="1.2 1.2"/>
<line x1="386" y1="435" x2="386" y2="605.5" stroke="#e2e2e2" stroke-width="0.8" stroke-dasharray="1.2 1.2"/>
<line x1="399.3" y1="435" x2="399.3" y2="605.5" stroke="#e2e2e2" stroke-width="0.8" stroke-dasharray="1.2 1.2"/>
<line x1="409.4" y1="435" x2="409.4" y2="605.5" stroke="#e2e2e2" stroke-width="0.8" stroke-dasharray="1.2 1.2"/>
<line x1="421" y1="435" x2="421" y2="605.5" stroke="#e2e2e2" stroke-width="0.8" stroke-dasharray="1.2 1.2"/>
<line x1="433.5" y1="435" x2="433.5" y2="605.5" stroke="#e2e2e2" stroke-width="0.8" stroke-dasharray="1.2 1.2"/>
<line x1="441.9" y1="435" x2="441.9" y2="605.5" stroke="#e2e2e2" stroke-width="0.8" stroke-dasharray="1.2 1.2"/>
<line x1="452.2" y1="435" x2="452.2" y2="605.5" stroke="#e2e2e2" stroke-width="0.8" stroke-dasharray="1.2 1.2"/>
<line x1="459.4" y1="435" x2="459.4" y2="605.5" stroke="#e2e2e2" stroke-width="0.8" stroke-dasharray="1.2 1.2"/>
<line x1="468.3" y1="435" x2="468.3" y2="605.5" stroke="#e2e2e2" stroke-width="0.8" stroke-dasharray="1.2 1.2"/>
<line x1="474.3" y1="435" x2="474.3" y2="605.5" stroke="#e2e2e2" stroke-width="0.8" stroke-dasharray="1.2 1.2"/>
<line x1="479.1" y1="435" x2="479.1" y2="605.5" stroke="#e2e2e2" stroke-width="0.8" stroke-dasharray="1.2 1.2"/>
<line x1="484.4" y1="435" x2="484.4" y2="605.5" stroke="#e2e2e2" stroke-width="0.8" stroke-dasharray="1.2 1.2"/>
<line x1="490.7" y1="435" x2="490.7" y2="605.5" stroke="#e2e2e2" stroke-width="0.8" stroke-dasharray="1.2 1.2"/>
<line x1="495.5" y1="435" x2="495.5" y2="605.5" stroke="#e2e2e2" stroke-width="0.8" stroke-dasharray="1.2 1.2"/>
<line x1="504.4" y1="435" x2="504.4" y2="605.5" stroke="#e2e2e2" stroke-width="0.8" stroke-dasharray="1.2 1.2"/>
<line x1="509.2" y1="435" x2="509.2" y2="605.5" stroke="#e2e2e2" stroke-width="0.8" stroke-dasharray="1.2 1.2"/>
<rect x="272.2" y="435" width="1" height="171" fill="#a0a0a0"/>
<rect x="270.3" y="434.95" width="2.4" height="0.9" fill="#707070"/>
<rect x="264.09999999999997" y="434.60" width="3.2" height="1.6" fill="#b8b8b8"/>
<rect x="270.3" y="456.25" width="2.4" height="0.9" fill="#707070"/>
<rect x="264.09999999999997" y="455.90" width="3.2" height="1.6" fill="#b8b8b8"/>
<rect x="270.3" y="477.55" width="2.4" height="0.9" fill="#707070"/>
<rect x="264.09999999999997" y="477.20" width="3.2" height="1.6" fill="#b8b8b8"/>
<rect x="270.3" y="498.85" width="2.4" height="0.9" fill="#707070"/>
<rect x="264.09999999999997" y="498.50" width="3.2" height="1.6" fill="#b8b8b8"/>
<rect x="270.3" y="520.15" width="2.4" height="0.9" fill="#707070"/>
<rect x="264.09999999999997" y="519.80" width="3.2" height="1.6" fill="#b8b8b8"/>
<rect x="270.3" y="541.45" width="2.4" height="0.9" fill="#707070"/>
<rect x="264.09999999999997" y="541.10" width="3.2" height="1.6" fill="#b8b8b8"/>
<rect x="270.3" y="562.75" width="2.4" height="0.9" fill="#707070"/>
<rect x="264.09999999999997" y="562.40" width="3.2" height="1.6" fill="#b8b8b8"/>
<rect x="270.3" y="584.05" width="2.4" height="0.9" fill="#707070"/>
<rect x="264.09999999999997" y="583.70" width="3.2" height="1.6" fill="#b8b8b8"/>
<rect x="270.3" y="605.35" width="2.4" height="0.9" fill="#707070"/>
<rect x="264.09999999999997" y="605.00" width="3.2" height="1.6" fill="#b8b8b8"/>
<text x="290.8" y="613.3" text-anchor="middle" class="xl">1</text>
<text x="315" y="613.3" text-anchor="middle" class="xl">2</text>
<text x="333.3" y="613.3" text-anchor="middle" class="xl">3</text>
<text x="344.4" y="613.3" text-anchor="middle" class="xl">4</text>
<text x="358.3" y="613.3" text-anchor="middle" class="xl">5</text>
<text x="370.4" y="613.3" text-anchor="middle" class="xl">6</text>
<text x="381.5" y="613.3" text-anchor="middle" class="xl">7</text>
<text x="393.9" y="613.3" text-anchor="middle" class="xl">8</text>
<text x="405.7" y="613.3" text-anchor="middle" class="xl">9</text>
<text x="417.1" y="613.3" text-anchor="middle" class="xl">10</text>
<text x="428.5" y="613.3" text-anchor="middle" class="xl">11</text>
<text x="440" y="613.3" text-anchor="middle" class="xl">12</text>
<text x="449" y="613.3" text-anchor="middle" class="xl">13</text>
<text x="502.2" y="613.3" text-anchor="middle" class="xl">X</text>
<rect x="34.2" y="510.33" width="4.40" height="10.87" fill="#d80000"/>
<rect x="34.2" y="521.20" width="4.40" height="10.55" fill="#ff0a0a"/>
<rect x="75.0" y="510.33" width="13.80" height="10.87" fill="#d80000"/>
<rect x="75.0" y="521.20" width="13.80" height="10.55" fill="#ff0a0a"/>
<rect x="88.8" y="499.56" width="7.20" height="21.64" fill="#d80000"/>
<rect x="88.8" y="521.20" width="7.20" height="21.10" fill="#ff0a0a"/>
<rect x="96.0" y="510.33" width="7.40" height="10.87" fill="#d80000"/>
<rect x="96.0" y="521.20" width="7.40" height="10.55" fill="#ff0a0a"/>
<rect x="103.4" y="499.56" width="13.10" height="21.64" fill="#d80000"/>
<rect x="103.4" y="521.20" width="13.10" height="21.10" fill="#ff0a0a"/>
<rect x="121.8" y="510.33" width="6.70" height="10.87" fill="#d80000"/>
<rect x="121.8" y="521.20" width="6.70" height="10.55" fill="#ff0a0a"/>
<rect x="128.5" y="499.56" width="6.50" height="21.64" fill="#d80000"/>
<rect x="128.5" y="521.20" width="6.50" height="21.10" fill="#ff0a0a"/>
<rect x="135.0" y="488.79" width="5.30" height="32.41" fill="#d80000"/>
<rect x="135.0" y="521.20" width="5.30" height="31.65" fill="#ff0a0a"/>
<rect x="144.2" y="499.56" width="6.20" height="21.64" fill="#d80000"/>
<rect x="144.2" y="521.20" width="6.20" height="21.10" fill="#ff0a0a"/>
<rect x="150.4" y="478.02" width="11.60" height="43.18" fill="#d80000"/>
<rect x="150.4" y="521.20" width="11.60" height="42.20" fill="#ff0a0a"/>
<rect x="172.6" y="510.33" width="1.60" height="10.87" fill="#d80000"/>
<rect x="172.6" y="521.20" width="1.60" height="10.55" fill="#ff0a0a"/>
<rect x="193.5" y="488.79" width="6.60" height="32.41" fill="#d80000"/>
<rect x="193.5" y="521.20" width="6.60" height="31.65" fill="#ff0a0a"/>
<rect x="213.6" y="510.33" width="2.40" height="10.87" fill="#d80000"/>
<rect x="213.6" y="521.20" width="2.40" height="10.55" fill="#ff0a0a"/>
<rect x="216.0" y="499.56" width="8.20" height="21.64" fill="#d80000"/>
<rect x="216.0" y="521.20" width="8.20" height="21.10" fill="#ff0a0a"/>
<rect x="227.3" y="510.33" width="1.50" height="10.87" fill="#d80000"/>
<rect x="227.3" y="521.20" width="1.50" height="10.55" fill="#ff0a0a"/>
<rect x="238.6" y="488.79" width="4.50" height="32.41" fill="#d80000"/>
<rect x="238.6" y="521.20" width="4.50" height="31.65" fill="#ff0a0a"/>
<rect x="33.3" y="499.88" width="0.8" height="42.64" fill="#f4c0c0"/>
<rect x="234.3" y="434.5" width="0.9" height="171.5" fill="#f08080"/>
<rect x="234.0" y="446" width="1.50" height="12.00" fill="#c00000"/>
<rect x="233.3" y="458" width="2.70" height="10.00" fill="#c80000"/>
<rect x="233.0" y="468" width="3.20" height="53.20" fill="#c80000"/>
<rect x="233.0" y="521.2" width="3.20" height="61.80" fill="#ee0000"/>
<rect x="233.6" y="583" width="1.90" height="13.00" fill="#e00000"/>
<rect x="280.50" y="510.54" width="1" height="21.32" fill="#9a9ad8" opacity="0.8"/>
<rect x="285.20" y="510.54" width="1" height="21.32" fill="#9a9ad8" opacity="0.8"/>
<rect x="288.00" y="499.88" width="1" height="31.98" fill="#9a9ad8" opacity="0.8"/>
<rect x="294.50" y="510.54" width="1" height="21.32" fill="#9a9ad8" opacity="0.8"/>
<rect x="309.20" y="521.20" width="1" height="10.66" fill="#9a9ad8" opacity="0.8"/>
<rect x="326.00" y="510.54" width="1" height="10.66" fill="#9a9ad8" opacity="0.8"/>
<rect x="337.50" y="510.54" width="1" height="21.32" fill="#9a9ad8" opacity="0.8"/>
<rect x="354.90" y="510.54" width="1" height="21.32" fill="#9a9ad8" opacity="0.8"/>
<rect x="359.00" y="489.22" width="1" height="53.30" fill="#9a9ad8" opacity="0.8"/>
<rect x="359.80" y="489.22" width="1" height="53.30" fill="#9a9ad8" opacity="0.8"/>
<rect x="370.10" y="499.88" width="1" height="42.64" fill="#9a9ad8" opacity="0.8"/>
<rect x="379.10" y="489.22" width="1" height="31.98" fill="#9a9ad8" opacity="0.8"/>
<rect x="384.90" y="478.56" width="1" height="63.96" fill="#9a9ad8" opacity="0.8"/>
<rect x="391.30" y="510.54" width="1" height="21.32" fill="#9a9ad8" opacity="0.8"/>
<rect x="407.90" y="510.54" width="1" height="21.32" fill="#9a9ad8" opacity="0.8"/>
<rect x="418.50" y="510.54" width="1" height="10.66" fill="#9a9ad8" opacity="0.8"/>
<rect x="421.00" y="510.54" width="1" height="10.66" fill="#9a9ad8" opacity="0.8"/>
<rect x="440.90" y="489.22" width="1" height="74.62" fill="#9a9ad8" opacity="0.8"/>
<rect x="479.20" y="510.54" width="1" height="21.32" fill="#9a9ad8" opacity="0.8"/>
<rect x="496.30" y="489.22" width="1" height="63.96" fill="#9a9ad8" opacity="0.8"/>
<rect x="289.40" y="510.54" width="1" height="21.32" fill="#9a9ad8" opacity="0.8"/>
<rect x="290.30" y="510.54" width="1" height="21.32" fill="#9a9ad8" opacity="0.8"/>
<rect x="298.2" y="510.54" width="1.60" height="10.66" fill="#333399"/>
<rect x="298.8" y="499.88" width="0.80" height="21.32" fill="#333399"/>
<rect x="334.2" y="510.54" width="2.30" height="10.66" fill="#333399"/>
<rect x="341.5" y="510.54" width="1.90" height="10.66" fill="#333399"/>
<rect x="345" y="499.88" width="2.30" height="21.32" fill="#333399"/>
<rect x="369.2" y="510.54" width="2.30" height="10.66" fill="#333399"/>
<rect x="375.7" y="489.22" width="1.60" height="31.98" fill="#333399"/>
<rect x="376" y="510.54" width="4.60" height="10.66" fill="#333399"/>
<rect x="378.5" y="499.88" width="1.80" height="21.32" fill="#333399"/>
<rect x="383.5" y="499.88" width="3.40" height="21.32" fill="#333399"/>
<rect x="400.1" y="489.22" width="3.60" height="31.98" fill="#333399"/>
<rect x="401.2" y="457.24" width="1.60" height="63.96" fill="#333399"/>
<rect x="414.5" y="510.54" width="1.70" height="10.66" fill="#333399"/>
<rect x="434.7" y="510.54" width="1.40" height="10.66" fill="#333399"/>
<rect x="444.0" y="510.54" width="1.00" height="10.66" fill="#333399"/>
<rect x="435" y="510.54" width="1.00" height="10.66" fill="#333399"/>
<rect x="450" y="510.54" width="1.00" height="10.66" fill="#333399"/>
<rect x="473.6" y="510.54" width="2.20" height="10.66" fill="#333399"/>
<rect x="488.7" y="510.54" width="6.00" height="10.66" fill="#333399"/>
<rect x="298.8" y="521.20" width="5.80" height="10.66" fill="#1010f0"/>
<rect x="334.2" y="521.20" width="2.30" height="10.66" fill="#1010f0"/>
<rect x="341.5" y="521.20" width="1.90" height="10.66" fill="#1010f0"/>
<rect x="345" y="521.20" width="2.30" height="10.66" fill="#1010f0"/>
<rect x="369.2" y="521.20" width="2.30" height="10.66" fill="#1010f0"/>
<rect x="376" y="521.20" width="4.60" height="10.66" fill="#1010f0"/>
<rect x="400.1" y="521.20" width="3.60" height="31.98" fill="#1010f0"/>
<rect x="401.0" y="521.20" width="2.00" height="53.30" fill="#1010f0"/>
<rect x="401.8" y="521.20" width="0.70" height="63.96" fill="#1010f0"/>
<rect x="435" y="521.20" width="1.00" height="10.66" fill="#1010f0"/>
<rect x="450" y="521.20" width="1.00" height="10.66" fill="#1010f0"/>
<rect x="473.6" y="521.20" width="2.20" height="10.66" fill="#1010f0"/>
<rect x="488.7" y="521.20" width="6.00" height="10.66" fill="#1010f0"/>
<rect x="440.5" y="521.20" width="3" height="10.66" fill="#a0a0e0"/>
<rect x="15.4" y="520.70" width="497.4" height="1.1" fill="#303030"/>
<rect x="15.3" y="605.2" width="492" height="1.1" fill="#707070"/>
<text x="82.8" y="426.7" class="tt" textLength="106.5" lengthAdjust="spacingAndGlyphs">Copy Number Gain</text>
<rect x="83" y="428.1" width="105.5" height="0.9" fill="#333"/>
<text x="339" y="426.7" class="tt" textLength="108.3" lengthAdjust="spacingAndGlyphs">Copy Number Loss</text>
<rect x="339.3" y="428.1" width="107.3" height="0.9" fill="#333"/>
<text x="23.8" y="485" class="dg">Diagnosis</text>
<text x="24.7" y="551.7" class="dg">Relapse</text>
<text x="291.9" y="484.4" class="dg">Diagnosis</text>
<text x="293.1" y="552" class="dg">Relapse</text>
</svg>
</body></html>
